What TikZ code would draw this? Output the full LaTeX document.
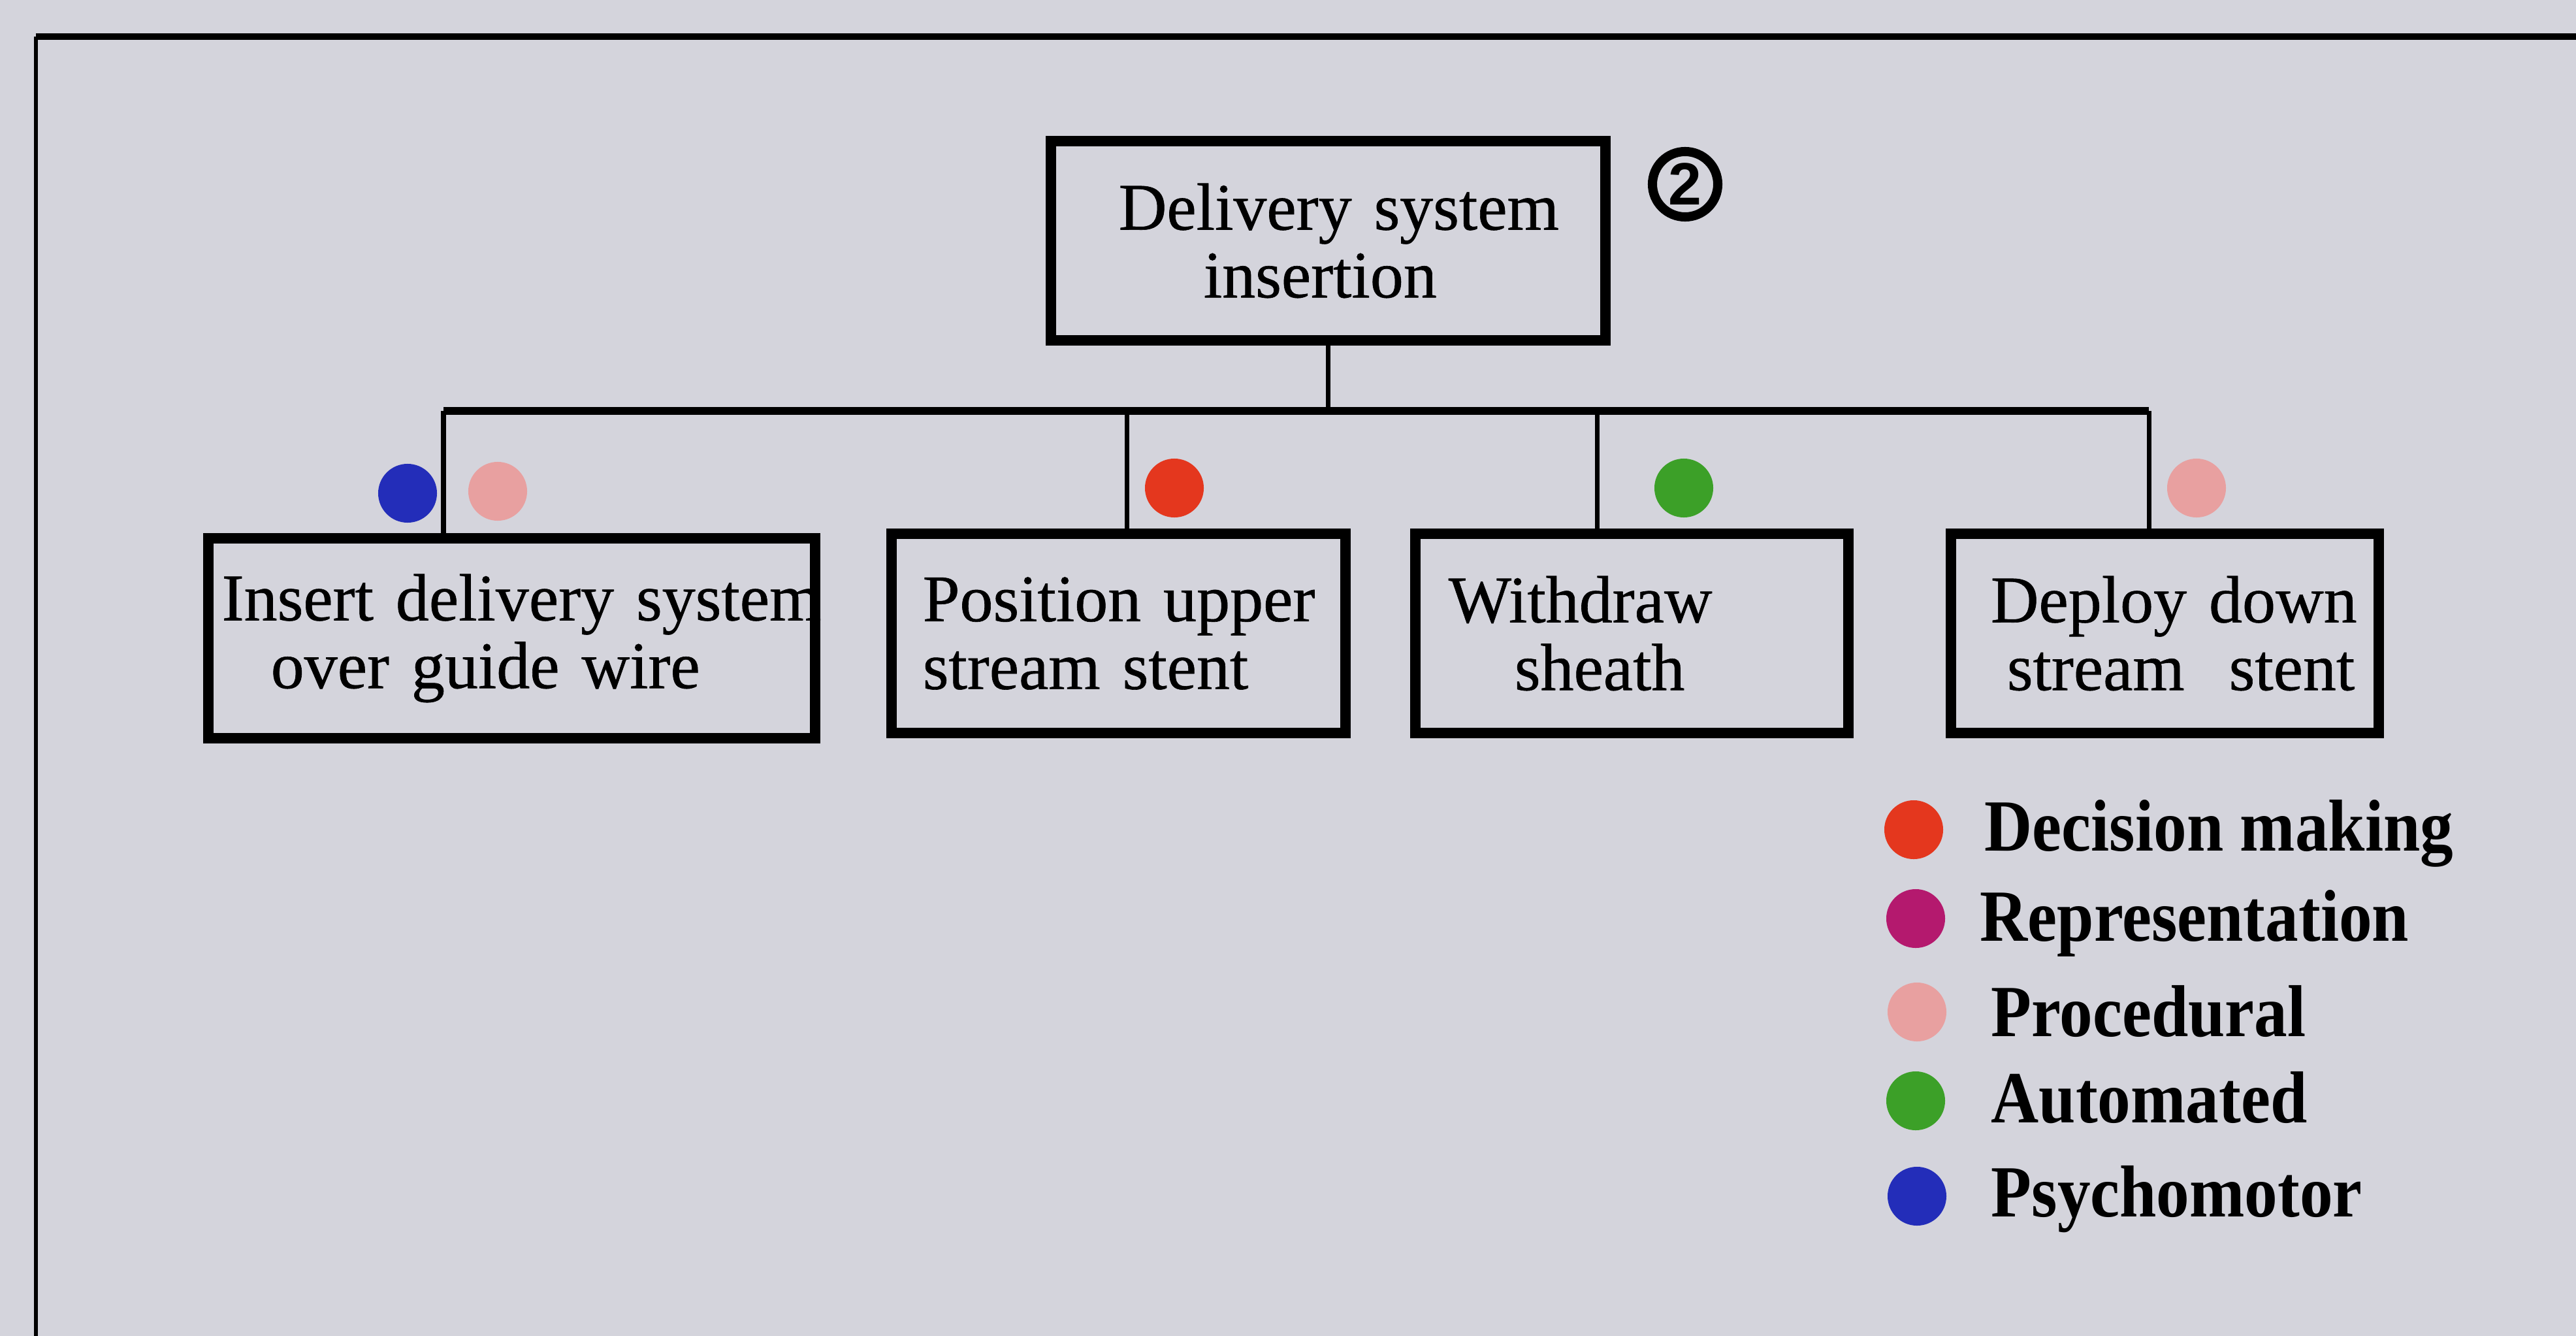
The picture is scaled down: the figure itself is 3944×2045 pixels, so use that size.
\documentclass[tikz,border=0pt]{standalone}
\usepackage{fontspec}
\setmainfont{Liberation Serif}
\newfontfamily\numfont{Liberation Sans}
\newfontfamily\boxfont[FakeBold=0.6]{Liberation Serif}
\definecolor{bgc}{RGB}{212,212,220}
\definecolor{decred}{RGB}{228,55,30}
\definecolor{reppurple}{RGB}{180,25,110}
\definecolor{procpink}{RGB}{232,160,160}
\definecolor{autogreen}{RGB}{60,160,40}
\definecolor{psyblue}{RGB}{35,45,185}
\tikzset{
  tbox/.style={draw=black, line width=4.5pt, rectangle, inner xsep=0pt, inner ysep=0pt,
    align=left, font=\boxfont\fontsize{29}{29.5}\selectfont},
  busline/.style={line width=3.5pt},
  dropline/.style={line width=2pt},
  tdot/.style={circle, inner sep=0pt, minimum size=0.9cm},
  legtext/.style={anchor=base west, inner sep=0pt, font=\fontsize{32}{32}\selectfont\bfseries},
}
\begin{document}
\begin{tikzpicture}[x=0.01cm,y=-0.01cm]
\fill[bgc] (0,0) rectangle (3944,2045);
\useasboundingbox (0,0) rectangle (3944,2045);
% frame
\draw[line width=3pt] (55,56) -- (3950,56);
\draw[line width=1.5pt] (55,56) -- (55,2050);
% root
\node[tbox, text width=8.49cm, minimum height=3.05cm] (root) at (2033.5,368.5)
  {\hspace*{1.04cm}\mbox{Delivery system}\\\hspace*{2.34cm}\mbox{insertion}};
\node[circle, draw=black, line width=4pt, minimum size=1.0cm, inner sep=0pt,
  font=\numfont\bfseries\fontsize{26}{26}\selectfont] (num) at (2580,282) {2};
% children
\node[tbox, text width=9.29cm, minimum height=3.06cm] (b1) at (783.5,977)
  {\hspace*{0.21cm}\mbox{Insert delivery system}\\\hspace*{0.96cm}\mbox{over guide wire}};
\node[tbox, text width=6.95cm, minimum height=3.05cm] (b2) at (1712.5,969.5)
  {\hspace*{0.48cm}\mbox{Position upper}\\\hspace*{0.48cm}\mbox{stream stent}};
\node[tbox, text width=6.63cm, minimum height=3.05cm] (b3) at (2498.5,969.5)
  {\hspace*{0.51cm}\mbox{Withdraw}\\\hspace*{1.52cm}\mbox{sheath}};
\node[tbox, text width=6.55cm, minimum height=3.05cm] (b4) at (3314.5,969.5)
  {\hspace*{0.61cm}\mbox{Deploy down}\\\hspace*{0.86cm}\mbox{stream~~stent}};
% connectors
\coordinate (d1) at (679,629);
\coordinate (d2) at (1725,629);
\coordinate (d3) at (2445,629);
\coordinate (d4) at (3290,629);
\draw[dropline] (root.south) -- (root.south |- d1);
\draw[busline] (d1) -- (d4);
\draw[dropline] (d1) -- (d1 |- b1.north);
\draw[dropline] (d2) -- (d2 |- b2.north);
\draw[dropline] (d3) -- (d3 |- b3.north);
\draw[dropline] (d4) -- (d4 |- b4.north);
% task dots
\node[tdot, fill=psyblue] (b1psy) at (624,755) {};
\node[tdot, fill=procpink] (b1proc) at (762,752) {};
\node[tdot, fill=decred] (b2dec) at (1798,747) {};
\node[tdot, fill=autogreen] (b3auto) at (2578,747) {};
\node[tdot, fill=procpink] (b4proc) at (3363,747) {};
% legend
\node[tdot, fill=decred] (ldec) at (2930,1270) {};
\node[tdot, fill=reppurple] (lrep) at (2933,1406) {};
\node[tdot, fill=procpink] (lproc) at (2935,1549) {};
\node[tdot, fill=autogreen] (lauto) at (2933,1685) {};
\node[tdot, fill=psyblue] (lpsy) at (2935,1831) {};
\node[legtext] (tdec) at (3038,1302) {\scalebox{0.9}[1]{Decision making}};
\node[legtext] (trep) at (3031,1440) {\scalebox{0.9}[1]{Representation}};
\node[legtext] (tproc) at (3048,1586) {\scalebox{0.9}[1]{Procedural}};
\node[legtext] (tauto) at (3048,1718) {\scalebox{0.9}[1]{Automated}};
\node[legtext] (tpsy) at (3048,1862) {\scalebox{0.9}[1]{Psychomotor}};
\end{tikzpicture}
\end{document}
